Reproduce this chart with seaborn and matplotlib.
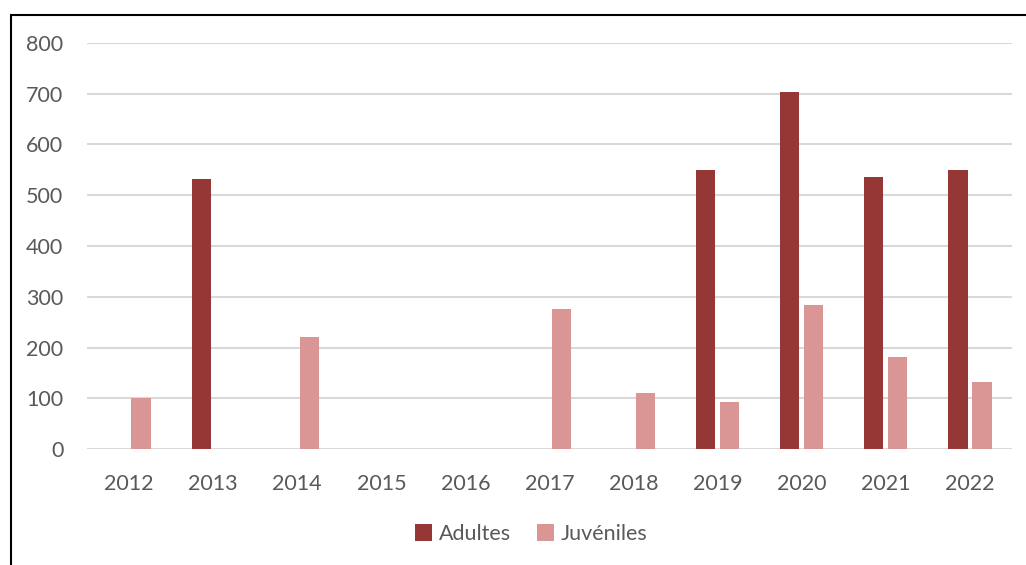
import pandas as pd
import matplotlib.pyplot as plt
import seaborn as sns
from matplotlib.patches import Rectangle, Patch

years = ["2012", "2013", "2014", "2015", "2016", "2017", "2018", "2019", "2020", "2021", "2022"]
adultes = [0, 532, 0, 0, 0, 0, 0, 550, 703, 535, 550]
juveniles = [100, 0, 220, 0, 0, 275, 110, 92, 284, 181, 132]
series = ["Adultes", "Juvéniles"]
colors = ["#953735", "#D99694"]

df = pd.DataFrame({"annee": years * 2,
                   "groupe": ["Adultes"] * len(years) + ["Juvéniles"] * len(years),
                   "valeur": adultes + juveniles})

sns.set_theme(style="white")
plt.rcParams["font.family"] = ["Lato", "DejaVu Sans"]
text_col = "#595959"

fig = plt.figure(figsize=(10.26, 5.65), dpi=100)
ax = fig.add_axes([87 / 1026, (565 - 449) / 565, (1012 - 87) / 1026, (449 - 43) / 565])

sns.barplot(data=df, x="annee", y="valeur", hue="groupe", order=years, hue_order=series,
            palette=colors, width=0.57, gap=0.2, linewidth=0, saturation=1, ax=ax)

ax.set_ylim(0, 800)
ax.set_xlim(-0.5, len(years) - 0.5)
ax.set_yticks(range(0, 801, 100))
ax.yaxis.grid(True, color="#D9D9D9", linewidth=1.5)
ax.set_axisbelow(True)
for s in ax.spines.values():
    s.set_visible(False)
ax.set_xlabel("")
ax.set_ylabel("")
ax.tick_params(axis="both", length=0, labelsize=15.5, labelcolor=text_col)
ax.tick_params(axis="x", pad=18)
ax.tick_params(axis="y", pad=17)

ax.get_legend().remove()
handles = [Patch(facecolor=c, edgecolor="none", label=l) for c, l in zip(colors, series)]
fig.legend(handles=handles, loc="center", bbox_to_anchor=(531 / 1026, 1 - 534 / 565), ncol=2,
           frameon=False, fontsize=15.5, labelcolor=text_col, handlelength=0.8, handleheight=0.8,
           handletextpad=0.3, columnspacing=1.2)

fig.patches.append(Rectangle((10.5 / 1026, -0.05), 1.2, 1 - 14.5 / 565 + 0.05, transform=fig.transFigure,
                             fill=False, edgecolor="black", linewidth=1.5))

fig.savefig("out.png", dpi=100)
